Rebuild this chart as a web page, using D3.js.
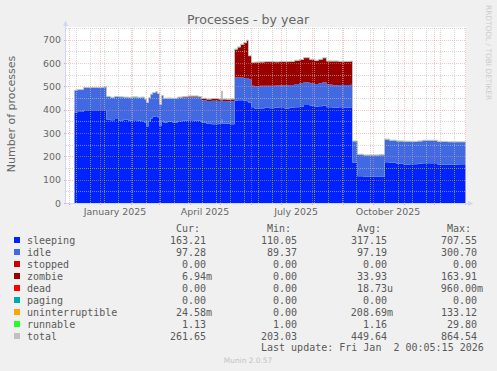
<!doctype html>
<meta charset="utf-8">
<title>Processes - by year</title>
<style>
    body {
        margin: 0;
        background-color: #f0f0f0;
    }

    svg {
        display: block;
    }

    text {
        font-family: "DejaVu Sans", sans-serif;
        fill: #666;
    }

    .legend text {
        font-family: "DejaVu Sans Mono", monospace;
        font-size: 10px;
        fill: #5a5a5a;
    }

    .axis text {
        font-size: 9.4px;
    }
</style>
<svg width=497 height=371></svg>
<script src="https://d3js.org/d3.v7.min.js"></script>
<script>
    // Sampled readings (steps), one value per listed day
    var days = [
        '2024-12-07', '2024-12-10', '2024-12-16', '2024-12-24', '2024-12-31', '2025-01-05',
        '2025-01-08', '2025-01-12', '2025-01-16', '2025-01-20', '2025-01-25', '2025-01-30',
        '2025-02-03', '2025-02-08', '2025-02-12', '2025-02-15', '2025-02-17', '2025-02-19',
        '2025-02-21', '2025-02-23', '2025-02-26', '2025-02-28', '2025-03-02', '2025-03-04',
        '2025-03-06', '2025-03-10', '2025-03-15', '2025-03-20', '2025-03-25', '2025-03-30',
        '2025-04-05', '2025-04-10', '2025-04-13', '2025-04-18', '2025-04-23', '2025-04-30',
        '2025-05-03', '2025-05-04', '2025-05-08', '2025-05-12', '2025-05-16', '2025-05-19',
        '2025-05-22', '2025-05-25', '2025-05-28', '2025-05-30', '2025-06-02', '2025-06-05',
        '2025-06-10', '2025-06-15', '2025-06-20', '2025-06-25', '2025-06-30', '2025-07-05',
        '2025-07-10', '2025-07-15', '2025-07-20', '2025-07-24', '2025-07-30', '2025-08-04',
        '2025-08-08', '2025-08-12', '2025-08-16', '2025-08-22', '2025-08-28', '2025-09-03',
        '2025-09-09', '2025-09-11', '2025-09-16', '2025-09-22', '2025-10-01', '2025-10-08',
        '2025-10-13', '2025-10-18', '2025-10-25', '2025-11-01', '2025-11-08', '2025-11-15',
        '2025-11-20', '2025-11-28', '2025-12-05', '2025-12-15', '2025-12-25', '2026-01-02'
    ];
    var sleeping = [
        388, 390, 398, 398, 398, 398,
        358, 355, 360, 354, 357, 352,
        355, 352, 350, 345, 328, 350,
        362, 370, 372, 368, 330, 355,
        345, 348, 345, 350, 352, 355,
        353, 352, 345, 340, 338, 340,
        360, 340, 340, 338, 438, 440,
        440, 438, 436, 430, 410, 405,
        405, 408, 406, 408, 407, 405,
        408, 410, 412, 420, 418, 412,
        415, 418, 410, 408, 410, 408,
        410, 172, 115, 113, 114, 113,
        175, 172, 168, 165, 166, 168,
        170, 170, 165, 164, 163, 163
    ];
    var idle = [
        95, 95, 95, 96, 96, 98,
        98, 97, 95, 100, 96, 100,
        98, 100, 103, 100, 102, 100,
        103, 102, 104, 100, 92, 105,
        103, 100, 102, 100, 100, 98,
        100, 100, 95, 97, 100, 97,
        110, 97, 96, 98, 100, 98,
        98, 98, 100, 100, 92, 95,
        98, 95, 96, 96, 98, 100,
        98, 100, 102, 98, 95, 98,
        98, 100, 98, 97, 96, 98,
        97, 93, 93, 92, 91, 92,
        97, 96, 97, 98, 97, 97,
        98, 97, 98, 97, 98, 97
    ];
    var zombie = [
        0, 0, 0, 0, 0, 0,
        0, 0, 0, 0, 0, 0,
        0, 0, 0, 0, 0, 0,
        0, 0, 0, 0, 0, 0,
        0, 0, 1, 2, 3, 4,
        4, 3, 8, 8, 8, 8,
        8, 8, 8, 9, 120, 130,
        140, 150, 160, 100, 100, 103,
        100, 102, 103, 100, 100, 100,
        100, 100, 100, 104, 102, 100,
        102, 103, 100, 102, 100, 100,
        100, 0, 0, 0, 0, 0,
        0, 0, 0, 0, 0, 0,
        0, 0, 0, 0, 0, 0
    ];
    var uninterruptible = [
        0, 0, 0, 0, 0, 0,
        0, 0, 0, 0, 0, 0,
        0, 0, 0, 0, 0, 0,
        0, 0, 0, 0, 0, 0,
        0, 0, 0, 1, 0, 0,
        1, 0, 0, 0, 0, 0,
        0, 0, 0, 0, 0, 0,
        0, 0, 0, 0, 0, 0,
        0, 0, 0, 0, 0, 0,
        0, 0, 0, 0, 0, 0,
        0, 0, 0, 0, 0, 0,
        0, 0, 0, 0, 0, 2,
        0, 0, 0, 0, 0, 0,
        0, 0, 0, 0, 0, 0
    ];
    var runnable = [
        1, 1, 2, 1, 1, 2,
        1, 1, 2, 1, 1, 1,
        2, 1, 1, 1, 1, 1,
        2, 1, 1, 1, 1, 1,
        1, 2, 1, 1, 1, 2,
        1, 1, 1, 1, 2, 1,
        1, 1, 1, 1, 2, 1,
        2, 1, 2, 1, 1, 1,
        2, 1, 1, 1, 2, 1,
        1, 2, 1, 1, 1, 2,
        1, 1, 1, 2, 1, 1,
        1, 1, 1, 1, 1, 1,
        2, 1, 1, 2, 1, 1,
        1, 2, 1, 1, 1, 1
    ];

    var yTicks = [0, 100, 200, 300, 400, 500, 600, 700];
    var yMinor = [50, 150, 250, 350, 450, 550, 650, 750];
    var xLabels = ['2025-01-16', '2025-04-16', '2025-07-16', '2025-10-16'];

    var legendNames = ['sleeping', 'idle', 'stopped', 'zombie', 'dead', 'paging', 'uninterruptible', 'runnable', 'total'];
    var legendColors = ['#0022ff', '#4169e1', '#cc0000', '#990000', '#ff0000', '#00aaaa', '#ffa500', '#22ff22', '#c0c0c0'];
    var curVals = ['163.21', '97.28', '0.00', '6.94m', '0.00', '0.00', '24.58m', '1.13', '261.65'];
    var minVals = ['110.05', '89.37', '0.00', '0.00', '0.00', '0.00', '0.00', '1.00', '203.03'];
    var avgVals = ['317.15', '97.19', '0.00', '33.93', '18.73u', '0.00', '208.69m', '1.16', '449.64'];
    var maxVals = ['707.55', '300.70', '0.00', '163.91', '960.00m', '0.00', '133.12', '29.80', '864.54'];

    var svg = d3.select('svg');
    var parseDay = d3.timeParse('%Y-%m-%d');
    var start = new Date(2024, 10, 28);
    var end = new Date(2026, 0, 2);

    var x = d3.scaleTime().domain([start, end]).range([65.5, 465.5]);
    var y = d3.scaleLinear().domain([0, 750]).range([203, 28]);

    var rows = days.map(function (d, i) {
        return {
            date: parseDay(d),
            sleeping: sleeping[i],
            idle: idle[i],
            stopped: 0,
            zombie: zombie[i],
            dead: 0,
            paging: 0,
            uninterruptible: uninterruptible[i],
            runnable: runnable[i]
        };
    });
    // last sample runs up to the right edge
    var lastRow = Object.assign({}, rows[rows.length - 1]);
    lastRow.date = end;
    rows[rows.length - 1] = lastRow;

    var keys = legendNames.slice(0, 8);
    var stack = d3.stack().keys(keys)(rows);

    // canvas
    svg.append('rect')
        .attr('x', 66).attr('y', 27)
        .attr('width', 400).attr('height', 176)
        .attr('fill', '#fff');

    // title
    svg.append('text')
        .attr('x', 248).attr('y', 24)
        .attr('text-anchor', 'middle')
        .style('font-size', '12.6px')
        .text('Processes - by year');

    svg.append('text')
        .attr('transform', 'translate(11,114) rotate(-90)')
        .attr('text-anchor', 'middle')
        .attr('dy', '0.35em')
        .style('font-size', '11px')
        .text('Number of processes');

    svg.append('text')
        .attr('transform', 'translate(486,5) rotate(90)')
        .style('font-size', '7.4px')
        .style('fill', '#cccccc')
        .text('RRDTOOL / TOBI OETIKER');

    // stacked areas
    var area = d3.area()
        .curve(d3.curveStepAfter)
        .x(function (d) { return x(d.data.date); })
        .y0(function (d) { return y(d[0]); })
        .y1(function (d) { return y(d[1]); });

    svg.append('g')
        .selectAll('path')
        .data(stack)
        .enter()
        .append('path')
        .attr('d', area)
        .attr('fill', function (d, i) { return legendColors[i]; });

    // total line
    var line = d3.line()
        .curve(d3.curveStepAfter)
        .x(function (d) { return x(d.date); })
        .y(function (d) {
            return y(d3.sum(keys, function (k) { return d[k]; }));
        });

    svg.append('path')
        .datum(rows)
        .attr('d', line)
        .attr('fill', 'none')
        .attr('stroke', '#c0c0c0')
        .attr('stroke-width', 1);

    // grid on top of the data
    var grid = svg.append('g').attr('shape-rendering', 'crispEdges');
    var minorX = d3.timeWeek.range(new Date(2024, 11, 8), end, 2);
    var majorX = d3.timeMonth.range(new Date(2024, 11, 1), end);
    var minorColor = 'rgba(190,190,190,0.6)';
    var majorColor = 'rgba(235,140,140,0.5)';

    grid.append('g')
        .attr('transform', 'translate(0,203)')
        .call(d3.axisBottom(x).tickValues(minorX).tickSize(-176).tickSizeOuter(0).tickFormat(''))
        .call(styleGrid, minorColor);
    grid.append('g')
        .attr('transform', 'translate(65.5,0)')
        .call(d3.axisLeft(y).tickValues(yMinor).tickSize(-400).tickSizeOuter(0).tickFormat(''))
        .call(styleGrid, minorColor);
    grid.append('g')
        .attr('transform', 'translate(0,203)')
        .call(d3.axisBottom(x).tickValues(majorX).tickSize(-176).tickSizeOuter(0).tickFormat(''))
        .call(styleGrid, majorColor);
    grid.append('g')
        .attr('transform', 'translate(65.5,0)')
        .call(d3.axisLeft(y).tickValues(yTicks.slice(1)).tickSize(-400).tickSizeOuter(0).tickFormat(''))
        .call(styleGrid, majorColor);

    // short solid ticks outside the plot
    grid.append('g')
        .attr('transform', 'translate(0,203)')
        .call(d3.axisBottom(x).tickValues(majorX).tickSize(2).tickSizeOuter(0).tickFormat(''))
        .call(function (g) {
            g.select('.domain').remove();
            g.selectAll('line').attr('stroke', '#f0a0a0');
        });
    grid.append('g')
        .attr('transform', 'translate(65.5,0)')
        .call(d3.axisLeft(y).tickValues(yTicks).tickSize(2).tickSizeOuter(0).tickFormat(''))
        .call(function (g) {
            g.select('.domain').remove();
            g.selectAll('line').attr('stroke', '#f0a0a0');
        });

    function styleGrid(g, color) {
        g.select('.domain').remove();
        g.selectAll('line')
            .attr('stroke', color)
            .attr('stroke-dasharray', '1,1');
    }

    // axis lines and arrows
    var axisColor = '#cfd6f8';
    svg.append('line')
        .attr('x1', 65.5).attr('x2', 65.5).attr('y1', 203).attr('y2', 25)
        .attr('stroke', axisColor);
    svg.append('line')
        .attr('x1', 65.5).attr('x2', 469).attr('y1', 203.5).attr('y2', 203.5)
        .attr('stroke', axisColor);
    svg.append('path')
        .attr('d', 'M63,26L65.5,20.5L68,26Z')
        .attr('fill', axisColor);
    svg.append('path')
        .attr('d', 'M468,201L473.5,203.5L468,206Z')
        .attr('fill', axisColor);

    // labels
    svg.append('g')
        .attr('class', 'axis')
        .attr('transform', 'translate(61,0)')
        .call(d3.axisLeft(y).tickValues(yTicks).tickSize(0).tickPadding(0))
        .call(function (g) { g.select('.domain').remove(); });

    svg.append('g')
        .attr('class', 'axis')
        .attr('transform', 'translate(0,204)')
        .call(d3.axisBottom(x)
            .tickValues(xLabels.map(parseDay))
            .tickSize(0)
            .tickPadding(4)
            .tickFormat(d3.timeFormat('%B %Y')))
        .call(function (g) { g.select('.domain').remove(); });

    svg.selectAll('.axis text')
        .style('font-family', '"DejaVu Sans", sans-serif')
        .style('fill', '#666');

    // legend
    var legend = svg.append('g').attr('class', 'legend');
    var colRight = [206, 297, 387, 477];
    var headers = ['Cur:', 'Min:', 'Avg:', 'Max:'];
    headers.forEach(function (h, i) {
        legend.append('text')
            .attr('x', colRight[i] - 6)
            .attr('y', 231.5)
            .attr('text-anchor', 'end')
            .text(h);
    });

    var columns = [curVals, minVals, avgVals, maxVals];
    legendNames.forEach(function (name, r) {
        var cy = 240 + r * 12;
        legend.append('rect')
            .attr('x', 14).attr('y', cy - 3)
            .attr('width', 6).attr('height', 6)
            .attr('fill', legendColors[r]);
        legend.append('text')
            .attr('x', 27).attr('y', cy + 3.5)
            .text(name);
        columns.forEach(function (col, c) {
            var v = col[r];
            var suffix = /[a-z]$/.test(v);
            legend.append('text')
                .attr('x', colRight[c] + (suffix ? 6 : 0))
                .attr('y', cy + 3.5)
                .attr('text-anchor', 'end')
                .text(v);
        });
    });

    legend.append('text')
        .attr('x', 261).attr('y', 351)
        .attr('xml:space', 'preserve')
        .style('white-space', 'pre')
        .text('Last update: Fri Jan  2 00:05:15 2026');

    svg.append('text')
        .attr('x', 248).attr('y', 362.5)
        .attr('text-anchor', 'middle')
        .style('font-size', '7.4px')
        .style('fill', '#c4c4c4')
        .text('Munin 2.0.57');
</script>
